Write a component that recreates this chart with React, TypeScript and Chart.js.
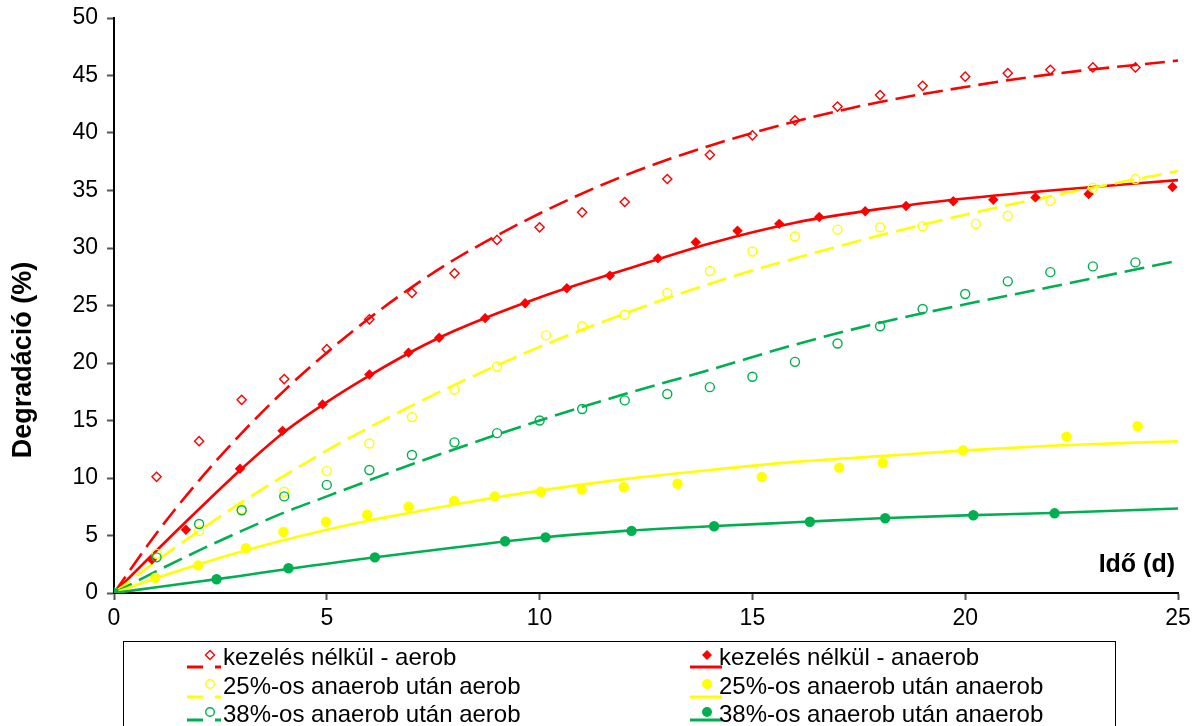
import React, { useEffect, useRef } from 'react';
import { Chart, registerables } from 'chart.js';

Chart.register(...registerables);

const RED = '#FF0000';
const YELLOW = '#FFFF00';
const GREEN = '#00B050';
const FONT = "'Liberation Sans', Arial, sans-serif";

// x-axis ticks / y-axis ticks
const X_MIN = 0, X_MAX = 25, X_STEP = 5;
const Y_MIN = 0, Y_MAX = 50, Y_STEP = 5;

const xTitle = 'Idő (d)';
const yTitle = 'Degradáció (%)';

const seriesLabels = [
  'kezelés nélkül - aerob',
  'kezelés nélkül - anaerob',
  '25%-os anaerob után aerob',
  '25%-os anaerob után anaerob',
  '38%-os anaerob után aerob',
  '38%-os anaerob után anaerob',
];

// measured points
const redAerobX = [0, 1, 2, 3, 4, 5, 6, 7, 8, 9, 10, 11, 12, 13, 14, 15, 16, 17, 18, 19, 20, 21, 22, 23, 24];
const redAerobY = [0, 10.1, 13.2, 16.8, 18.6, 21.2, 23.8, 26.1, 27.8, 30.7, 31.8, 33.1, 34.0, 36.0, 38.1, 39.8, 41.1, 42.3, 43.3, 44.1, 44.9, 45.2, 45.5, 45.7, 45.7];

const redAnaerobX = [0, 0.89, 1.69, 2.96, 3.96, 4.9, 6.0, 6.92, 7.64, 8.72, 9.66, 10.64, 11.65, 12.78, 13.67, 14.65, 15.63, 16.57, 17.65, 18.61, 19.72, 20.66, 21.65, 22.9, 24.87];
const redAnaerobY = [0, 2.9, 5.5, 10.8, 14.1, 16.4, 19.0, 20.9, 22.2, 23.9, 25.2, 26.5, 27.6, 29.1, 30.5, 31.5, 32.1, 32.7, 33.2, 33.65, 34.06, 34.2, 34.4, 34.7, 35.3];

const yellowAerobX = [0, 1, 2, 3, 4, 5, 6, 7, 8, 9, 10.15, 11, 12, 13, 14, 15, 16, 17, 18, 19, 20.25, 21, 22, 23, 24];
const yellowAerobY = [0, 3.4, 5.4, 7.3, 8.8, 10.6, 13.0, 15.3, 17.7, 19.7, 22.4, 23.2, 24.2, 26.1, 28.0, 29.7, 31.0, 31.6, 31.8, 31.9, 32.1, 32.8, 34.1, 35.25, 36.0];

const yellowAnaerobX = [0, 0.97, 1.98, 3.1, 3.98, 4.98, 5.95, 6.92, 7.99, 8.95, 10.03, 10.99, 11.98, 13.24, 15.22, 17.04, 18.06, 19.95, 22.38, 24.05];
const yellowAnaerobY = [0, 1.3, 2.4, 3.9, 5.3, 6.2, 6.8, 7.5, 8.0, 8.4, 8.8, 9.0, 9.2, 9.5, 10.1, 10.9, 11.3, 12.4, 13.6, 14.5];

const greenAerobX = [0, 1, 2, 3, 4, 5, 6, 7, 8, 9, 10, 11, 12, 13, 14, 15, 16, 17, 18, 19, 20, 21, 22, 23, 24];
const greenAerobY = [0, 3.1, 6.0, 7.2, 8.4, 9.4, 10.7, 12.0, 13.1, 13.9, 15.0, 16.0, 16.75, 17.3, 17.9, 18.8, 20.1, 21.7, 23.2, 24.7, 26.0, 27.1, 27.9, 28.4, 28.75];

const greenAnaerobX = [0, 2.41, 4.1, 6.13, 9.19, 10.14, 12.16, 14.1, 16.35, 18.12, 20.19, 22.1];
const greenAnaerobY = [0, 1.2, 2.15, 3.1, 4.5, 4.84, 5.4, 5.8, 6.2, 6.5, 6.76, 6.93];

// fitted trend curves
const fitX = [0, 1, 2, 3, 4, 5, 6, 7, 8, 10, 12, 14, 16, 18, 20, 22, 25];
const redAerobFit = [0, 5.2, 9.8, 13.9, 17.6, 20.9, 23.9, 26.6, 29.0, 33.0, 36.3, 38.9, 41.0, 42.7, 44.0, 45.1, 46.3];
const redAnaerobFit = [0, 3.7, 7.3, 10.8, 14.0, 16.6, 18.9, 21.0, 22.8, 25.7, 28.1, 30.4, 32.2, 33.4, 34.3, 35.0, 35.9];
const yellowAerobFit = [0, 2.8, 5.4, 7.9, 10.2, 12.4, 14.4, 16.3, 18.1, 21.4, 24.3, 26.9, 29.1, 31.1, 32.9, 34.5, 36.7];
const yellowAnaerobFit = [0, 1.3, 2.5, 3.6, 4.6, 5.5, 6.3, 7.0, 7.7, 8.9, 9.9, 10.7, 11.4, 11.9, 12.4, 12.8, 13.2];
const greenAerobFit = [0, 1.9, 3.7, 5.4, 7.0, 8.4, 9.8, 11.2, 12.5, 15.0, 17.3, 19.4, 21.6, 23.5, 25.1, 26.6, 28.9];
const greenAnaerobFit = [0, 0.5, 1.0, 1.5, 2.05, 2.55, 3.05, 3.5, 3.95, 4.8, 5.4, 5.8, 6.15, 6.5, 6.75, 6.95, 7.35];

const zip = (xs: number[], ys: number[]) => xs.map((x, i) => ({ x, y: ys[i] }));

const DASH = [20, 8];

type Spec = { label: string; color: string; dashed: boolean; diamond: boolean; filled: boolean };
const legendSpecs: Spec[] = [
  { label: seriesLabels[0], color: RED, dashed: true, diamond: true, filled: false },
  { label: seriesLabels[1], color: RED, dashed: false, diamond: true, filled: true },
  { label: seriesLabels[2], color: YELLOW, dashed: true, diamond: false, filled: false },
  { label: seriesLabels[3], color: YELLOW, dashed: false, diamond: false, filled: true },
  { label: seriesLabels[4], color: GREEN, dashed: true, diamond: false, filled: false },
  { label: seriesLabels[5], color: GREEN, dashed: false, diamond: false, filled: true },
];

function drawMarker(ctx: CanvasRenderingContext2D, s: Spec, x: number, y: number) {
  ctx.save();
  ctx.beginPath();
  if (s.diamond) {
    const r = s.filled ? 5 : 4.5;
    ctx.moveTo(x, y - r);
    ctx.lineTo(x + r, y);
    ctx.lineTo(x, y + r);
    ctx.lineTo(x - r, y);
    ctx.closePath();
  } else {
    ctx.arc(x, y, s.filled ? 5 : 4.3, 0, Math.PI * 2);
  }
  if (s.filled) {
    ctx.fillStyle = s.color;
    ctx.fill();
  } else {
    ctx.fillStyle = '#fff';
    ctx.fill();
    ctx.lineWidth = 1.4;
    ctx.strokeStyle = s.color;
    ctx.stroke();
  }
  ctx.restore();
}

const decorPlugin = {
  id: 'decor',
  afterDraw(chart: any) {
    const ctx: CanvasRenderingContext2D = chart.ctx;
    const xs = chart.scales.x;
    ctx.save();
    // x title inside plot
    ctx.font = `bold 25px ${FONT}`;
    ctx.fillStyle = '#000';
    ctx.textAlign = 'right';
    ctx.textBaseline = 'middle';
    ctx.fillText(xTitle, xs.getPixelForValue(X_MAX) - 3, 565);
    // y title
    ctx.save();
    ctx.font = `bold 27px ${FONT}`;
    ctx.translate(24, 360);
    ctx.rotate(-Math.PI / 2);
    ctx.textAlign = 'center';
    ctx.fillText(yTitle, 0, 0);
    ctx.restore();

    // legend box
    ctx.strokeStyle = '#000';
    ctx.lineWidth = 1;
    ctx.strokeRect(123.5, 641.5, 1115 - 123, 200);
    const colLineStart = [187, 690];
    const colLineEnd = [221, 722];
    const colMarker = [210, 707];
    const colText = [223, 719];
    const rowText = [658, 687, 715];
    const rowMarker = [655, 684, 712];
    const rowLine = [667, 697, 720];
    legendSpecs.forEach((s, i) => {
      const col = i % 2;
      const row = Math.floor(i / 2);
      ctx.save();
      ctx.strokeStyle = s.color;
      ctx.lineWidth = 3;
      ctx.setLineDash(s.dashed ? [16, 12] : []);
      ctx.beginPath();
      ctx.moveTo(colLineStart[col], rowLine[row]);
      ctx.lineTo(colLineEnd[col], rowLine[row]);
      ctx.stroke();
      ctx.restore();
      drawMarker(ctx, s, colMarker[col], rowMarker[row]);
      ctx.font = `24px ${FONT}`;
      ctx.fillStyle = '#000';
      ctx.textAlign = 'left';
      ctx.textBaseline = 'middle';
      ctx.fillText(s.label, colText[col], rowText[row]);
    });
    ctx.restore();
  },
};

export default function App() {
  const ref = useRef<HTMLCanvasElement | null>(null);
  useEffect(() => {
    if (!ref.current) return;
    const pointDs = (data: any[], s: Spec) => ({
      label: s.label,
      data,
      showLine: false,
      pointStyle: s.diamond ? 'rectRot' : 'circle',
      pointRadius: s.diamond ? (s.filled ? 5.2 : 4.6) : s.filled ? 5.2 : 4.5,
      pointBorderWidth: s.filled ? 0 : 1.4,
      pointBackgroundColor: s.filled ? s.color : 'rgba(255,255,255,0)',
      pointBorderColor: s.color,
      borderColor: s.color,
      backgroundColor: s.color,
    });
    const fitDs = (data: any[], color: string, dashed: boolean) => ({
      label: '',
      data,
      showLine: true,
      pointRadius: 0,
      borderColor: color,
      borderWidth: 2.6,
      borderDash: dashed ? DASH : [],
      cubicInterpolationMode: 'monotone',
      fill: false,
    });
    const chart = new Chart(ref.current, {
      type: 'scatter',
      data: {
        datasets: [
          pointDs(zip(greenAnaerobX, greenAnaerobY), legendSpecs[5]),
          pointDs(zip(yellowAnaerobX, yellowAnaerobY), legendSpecs[3]),
          pointDs(zip(greenAerobX, greenAerobY), legendSpecs[4]),
          pointDs(zip(yellowAerobX, yellowAerobY), legendSpecs[2]),
          pointDs(zip(redAnaerobX, redAnaerobY), legendSpecs[1]),
          pointDs(zip(redAerobX, redAerobY), legendSpecs[0]),
          fitDs(zip(fitX, greenAnaerobFit), GREEN, false),
          fitDs(zip(fitX, yellowAnaerobFit), YELLOW, false),
          fitDs(zip(fitX, greenAerobFit), GREEN, true),
          fitDs(zip(fitX, yellowAerobFit), YELLOW, true),
          fitDs(zip(fitX, redAnaerobFit), RED, false),
          fitDs(zip(fitX, redAerobFit), RED, true),
        ] as any,
      },
      options: {
        animation: false,
        responsive: false,
        maintainAspectRatio: false,
        layout: { padding: { top: 18, right: 22, bottom: 93, left: 0 } },
        plugins: { legend: { display: false }, tooltip: { enabled: false }, title: { display: false } },
        scales: {
          x: {
            type: 'linear',
            min: X_MIN,
            max: X_MAX,
            ticks: { stepSize: X_STEP, color: '#000', font: { family: FONT, size: 23 }, padding: 5 },
            grid: { drawOnChartArea: false, drawTicks: true, tickLength: 7, tickColor: '#555', tickWidth: 2 },
            border: { display: true, color: '#000', width: 2 },
            afterFit: (s: any) => { s.height = 40; s.paddingLeft = 5; s.paddingRight = 5; },
          },
          y: {
            type: 'linear',
            min: Y_MIN,
            max: Y_MAX,
            ticks: { stepSize: Y_STEP, color: '#000', font: { family: FONT, size: 23 }, padding: 9 },
            grid: { drawOnChartArea: false, drawTicks: true, tickLength: 7, tickColor: '#555', tickWidth: 2 },
            border: { display: true, color: '#000', width: 2 },
            afterFit: (s: any) => { s.width = 114; s.paddingTop = 5; s.paddingBottom = 5; },
          },
        },
      } as any,
      plugins: [decorPlugin],
    });
    return () => chart.destroy();
  }, []);
  return (
    <div style={{ position: 'fixed', left: 0, top: 0, width: 1200, height: 726, background: '#fff' }}>
      <canvas ref={ref} width={1200} height={726} style={{ display: 'block' }} />
    </div>
  );
}
